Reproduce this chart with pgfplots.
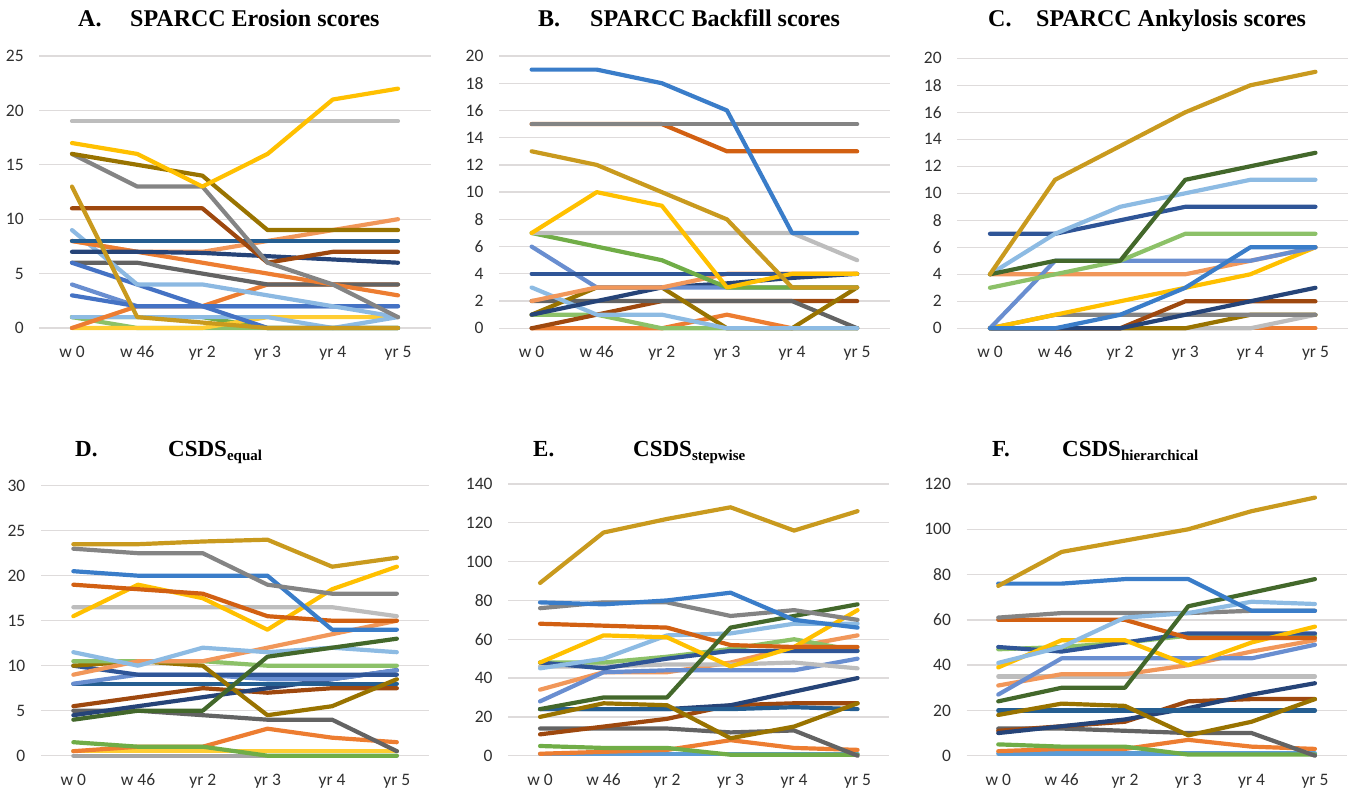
\documentclass[border=0pt]{standalone}
\usepackage{fontspec}
\setmainfont{Liberation Serif}
\newfontfamily\calfont{Carlito}
\usepackage{pgfplots}
\pgfplotsset{compat=1.18}
\definecolor{xblue}{HTML}{4472C4}
\definecolor{xorange}{HTML}{ED7D31}
\definecolor{xgray}{HTML}{A5A5A5}
\definecolor{xgold}{HTML}{FFC000}
\definecolor{xsky}{HTML}{5B9BD5}
\definecolor{xgreen}{HTML}{70AD47}
\definecolor{xnavy}{HTML}{264478}
\definecolor{xbrown}{HTML}{9E480E}
\definecolor{xdgray}{HTML}{636363}
\definecolor{xolive}{HTML}{997300}
\definecolor{xsteel}{HTML}{255E91}
\definecolor{xdgreen}{HTML}{43682B}
\definecolor{xperi}{HTML}{698ED0}
\definecolor{xsalmon}{HTML}{F1975A}
\definecolor{xlgray}{HTML}{BDBDBD}
\definecolor{xyellow}{HTML}{FFCD33}
\definecolor{xlblue}{HTML}{8DBBE3}
\definecolor{xlgreen}{HTML}{8CC168}
\definecolor{xroyal}{HTML}{2F5597}
\definecolor{xrust}{HTML}{D26012}
\definecolor{xmgray}{HTML}{848484}
\definecolor{xdgold}{HTML}{C99A1E}
\definecolor{xmblue}{HTML}{3A7DC9}
\definecolor{gridc}{HTML}{DEDBDB}
\definecolor{tickc}{HTML}{303030}
\pgfplotsset{
 panel/.style={
  scale only axis, clip=false,
  xmin=-0.5, xmax=5.5, ymin=0,
  axis line style={draw=none}, major tick style={draw=none},
  ymajorgrids, grid style={draw=gridc, line width=1.3pt},
  xtick={0,...,5}, xticklabels={w 0,w 46,yr 2,yr 3,yr 4,yr 5},
  ticklabel style={font=\calfont\fontsize{17.5}{18}\selectfont, text=tickc},
  xticklabel style={anchor=base, yshift=-29.5pt, inner sep=0pt},
  yticklabel style={anchor=east, xshift=-15.5pt, inner sep=0pt},
  /pgf/number format/assume math mode=true,
  every axis plot/.append style={line width=4.2pt, line join=round, line cap=round, mark=none},
  anchor=south west,
 }
}
\newcommand\tfont{\bfseries\fontsize{24}{25}\selectfont}
\newcommand\bfont{\bfseries\fontsize{23}{24}\selectfont}
\newcommand\sub[1]{\raisebox{-4pt}{\fontsize{15}{15}\selectfont #1}}
\begin{document}
\begin{tikzpicture}
\path (0,0) rectangle (1349pt,790pt);
% Titles
\node[anchor=base west, inner sep=0, font=\tfont] at (78pt,763.5pt) {A.};
\node[anchor=base west, inner sep=0, font=\tfont] at (130pt,763.5pt) {SPARCC Erosion scores};
\node[anchor=base west, inner sep=0, font=\tfont] at (538pt,763.5pt) {B.};
\node[anchor=base west, inner sep=0, font=\tfont] at (590pt,763.5pt) {SPARCC Backfill scores};
\node[anchor=base west, inner sep=0, font=\tfont] at (988pt,763.5pt) {C.};
\node[anchor=base west, inner sep=0, font=\tfont] at (1036pt,763.5pt) {SPARCC Ankylosis scores};
\node[anchor=base west, inner sep=0, font=\bfont] at (75pt,333pt) {D.};
\node[anchor=base west, inner sep=0, font=\bfont] at (168pt,333pt) {CSDS\sub{equal}};
\node[anchor=base west, inner sep=0, font=\bfont] at (533pt,333pt) {E.};
\node[anchor=base west, inner sep=0, font=\bfont] at (633pt,333pt) {CSDS\sub{stepwise}};
\node[anchor=base west, inner sep=0, font=\bfont] at (992pt,333pt) {F.};
\node[anchor=base west, inner sep=0, font=\bfont] at (1062pt,333pt) {CSDS\sub{hierarchical}};

% ---------------- A
\begin{axis}[panel, at={(39.4pt,462pt)}, width=391.2pt, height=272pt, ymax=25, ytick={0,5,...,25}]
\addplot[xdgreen] coordinates {(0,0)(1,0)(2,0)(3,0)(4,0)(5,0)};
\addplot[xlgreen] coordinates {(0,1)(1,0)(2,0)(3,0)(4,0)(5,0)};
\addplot[xgreen] coordinates {(0,1)(1,1)(2,1)(3,0)(4,0)(5,0)};
\addplot[xyellow] coordinates {(0,0)(1,0)(2,0)(3,1)(4,1)(5,1)};
\addplot[xlblue] coordinates {(0,1)(1,1)(2,1)(3,1)(4,0)(5,1)};
\addplot[xorange] coordinates {(0,0)(1,2)(2,2)(3,4)(4,4)(5,4)};
\addplot[xdgray] coordinates {(0,6)(1,6)(2,5)(3,4)(4,4)(5,4)};
\addplot[xperi] coordinates {(0,4)(1,2)(2,2)(3,2)(4,2)(5,2)};
\addplot[xblue] coordinates {(0,3)(1,2)(2,2)(3,2)(4,2)(5,2)};
\addplot[xblue] coordinates {(0,6)(1,4)(2,2)(3,0)(4,0)(5,0)};
\addplot[xsky!70!white] coordinates {(0,9)(1,4)(2,4)(3,3)(4,2)(5,1)};
\addplot[xsalmon] coordinates {(0,8)(1,7)(2,7)(3,8)(4,9)(5,10)};
\addplot[xorange] coordinates {(0,8)(1,7)(2,6)(3,5)(4,4)(5,3)};
\addplot[xnavy] coordinates {(0,7)(1,7)(2,6.9)(3,6.6)(4,6.3)(5,6)};
\addplot[xsteel] coordinates {(0,8)(1,8)(2,8)(3,8)(4,8)(5,8)};
\addplot[xbrown] coordinates {(0,11)(1,11)(2,11)(3,6)(4,7)(5,7)};
\addplot[xdgold] coordinates {(0,13)(1,1)(2,0.5)(3,0)(4,0)(5,0)};
\addplot[xmgray] coordinates {(0,16)(1,13)(2,13)(3,6)(4,4)(5,1)};
\addplot[xolive] coordinates {(0,16)(1,15)(2,14)(3,9)(4,9)(5,9)};
\addplot[xlgray] coordinates {(0,19)(1,19)(2,19)(3,19)(4,19)(5,19)};
\addplot[xgold] coordinates {(0,17)(1,16)(2,13)(3,16)(4,21)(5,22)};
\end{axis}

% ---------------- B
\begin{axis}[panel, at={(499.1pt,461.7pt)}, width=390.6pt, height=272.3pt, ymax=20, ytick={0,2,...,20}]
\addplot[xsteel] coordinates {(0,0)(1,0)(2,0)(3,0)(4,0)(5,0)};
\addplot[xorange] coordinates {(0,0)(1,0)(2,0)(3,1)(4,0)(5,0)};
\addplot[xlgreen] coordinates {(0,1)(1,1)(2,0)(3,0)(4,0)(5,0)};
\addplot[xbrown] coordinates {(0,0)(1,1)(2,2)(3,2)(4,2)(5,2)};
\addplot[xdgray] coordinates {(0,2)(1,2)(2,2)(3,2)(4,2)(5,0)};
\addplot[xolive] coordinates {(0,1)(1,3)(2,3)(3,0)(4,0)(5,3)};
\addplot[xlblue] coordinates {(0,3)(1,1)(2,1)(3,0)(4,0)(5,0)};
\addplot[xnavy] coordinates {(0,1)(1,2)(2,3)(3,3.3)(4,3.7)(5,4)};
\addplot[xperi] coordinates {(0,6)(1,3)(2,3)(3,3)(4,3)(5,3)};
\addplot[xsalmon] coordinates {(0,2)(1,3)(2,3)(3,4)(4,4)(5,4)};
\addplot[xroyal] coordinates {(0,4)(1,4)(2,4)(3,4)(4,4)(5,4)};
\addplot[xgreen] coordinates {(0,7)(1,6)(2,5)(3,3)(4,3)(5,3)};
\addplot[xlgray] coordinates {(0,7)(1,7)(2,7)(3,7)(4,7)(5,5)};
\addplot[xgold] coordinates {(0,7)(1,10)(2,9)(3,3)(4,4)(5,4)};
\addplot[xdgold] coordinates {(0,13)(1,12)(2,10)(3,8)(4,3)(5,3)};
\addplot[xrust] coordinates {(0,15)(1,15)(2,15)(3,13)(4,13)(5,13)};
\addplot[xmgray] coordinates {(0,15)(1,15)(2,15)(3,15)(4,15)(5,15)};
\addplot[xmblue] coordinates {(0,19)(1,19)(2,18)(3,16)(4,7)(5,7)};
\end{axis}

% ---------------- C
\begin{axis}[panel, at={(957.4pt,461.7pt)}, width=390.6pt, height=270pt, ymax=20, ytick={0,2,...,20}]
\addplot[xorange] coordinates {(0,0)(1,0)(2,0)(3,0)(4,0)(5,0)};
\addplot[xlgray] coordinates {(0,0)(1,0)(2,0)(3,0)(4,0)(5,1)};
\addplot[xolive] coordinates {(0,0)(1,0)(2,0)(3,0)(4,1)(5,1)};
\addplot[xmgray] coordinates {(0,0)(1,1)(2,1)(3,1)(4,1)(5,1)};
\addplot[xbrown] coordinates {(0,0)(1,0)(2,0)(3,2)(4,2)(5,2)};
\addplot[xnavy] coordinates {(0,0)(1,0)(2,0)(3,1)(4,2)(5,3)};
\addplot[xgold] coordinates {(0,0)(1,1)(2,2)(3,3)(4,4)(5,6)};
\addplot[xsalmon] coordinates {(0,4)(1,4)(2,4)(3,4)(4,5)(5,6)};
\addplot[xperi] coordinates {(0,0)(1,5)(2,5)(3,5)(4,5)(5,6)};
\addplot[xmblue] coordinates {(0,0)(1,0)(2,1)(3,3)(4,6)(5,6)};
\addplot[xlgreen] coordinates {(0,3)(1,4)(2,5)(3,7)(4,7)(5,7)};
\addplot[xroyal] coordinates {(0,7)(1,7)(2,8)(3,9)(4,9)(5,9)};
\addplot[xlblue] coordinates {(0,4)(1,7)(2,9)(3,10)(4,11)(5,11)};
\addplot[xdgreen] coordinates {(0,4)(1,5)(2,5)(3,11)(4,12)(5,13)};
\addplot[xdgold] coordinates {(0,4)(1,11)(2,13.5)(3,16)(4,18)(5,19)};
\end{axis}

% ---------------- D
\begin{axis}[panel, at={(41pt,34.3pt)}, width=388.2pt, height=270pt, ymax=30, ytick={0,5,...,30}]
\addplot[xgray] coordinates {(0,0)(1,0)(2,0)(3,0)(4,0)(5,0)};
\addplot[xsky] coordinates {(0,0.5)(1,0.5)(2,0.5)(3,0.5)(4,0.5)(5,0.5)};
\addplot[xyellow] coordinates {(0,0.5)(1,0.5)(2,0.5)(3,0.5)(4,0.5)(5,0.5)};
\addplot[xorange] coordinates {(0,0.5)(1,1)(2,1)(3,3)(4,2)(5,1.5)};
\addplot[xgreen] coordinates {(0,1.5)(1,1)(2,1)(3,0)(4,0)(5,0)};
\addplot[xdgray] coordinates {(0,5)(1,5)(2,4.5)(3,4)(4,4)(5,0.5)};
\addplot[xbrown] coordinates {(0,5.5)(1,6.5)(2,7.5)(3,7)(4,7.5)(5,7.5)};
\addplot[xnavy] coordinates {(0,4.5)(1,5.5)(2,6.5)(3,7.5)(4,8.5)(5,9.5)};
\addplot[xsteel] coordinates {(0,8)(1,8)(2,8)(3,8)(4,8)(5,8)};
\addplot[xperi] coordinates {(0,8)(1,9)(2,9)(3,8.5)(4,8.5)(5,9.5)};
\addplot[xroyal] coordinates {(0,10)(1,9)(2,9)(3,9)(4,9)(5,9)};
\addplot[xolive] coordinates {(0,10)(1,10.5)(2,10)(3,4.5)(4,5.5)(5,8.5)};
\addplot[xlgreen] coordinates {(0,10.5)(1,10.5)(2,10.5)(3,10)(4,10)(5,10)};
\addplot[xsalmon] coordinates {(0,9)(1,10.5)(2,10.5)(3,12)(4,13.5)(5,15)};
\addplot[xlblue] coordinates {(0,11.5)(1,10)(2,12)(3,11.5)(4,12)(5,11.5)};
\addplot[xdgreen] coordinates {(0,4)(1,5)(2,5)(3,11)(4,12)(5,13)};
\addplot[xlgray] coordinates {(0,16.5)(1,16.5)(2,16.5)(3,16.5)(4,16.5)(5,15.5)};
\addplot[xgold] coordinates {(0,15.5)(1,19)(2,17.5)(3,14)(4,18.5)(5,21)};
\addplot[xrust] coordinates {(0,19)(1,18.5)(2,18)(3,15.5)(4,15)(5,15)};
\addplot[xmblue] coordinates {(0,20.5)(1,20)(2,20)(3,20)(4,14)(5,14)};
\addplot[xmgray] coordinates {(0,23)(1,22.5)(2,22.5)(3,19)(4,18)(5,18)};
\addplot[xdgold] coordinates {(0,23.5)(1,23.5)(2,23.8)(3,24)(4,21)(5,22)};
\end{axis}

% ---------------- E
\begin{axis}[panel, at={(508.3pt,34.3pt)}, width=381pt, height=271.7pt, ymax=140, ytick={0,20,...,140}]
\addplot[xsky] coordinates {(0,1)(1,1)(2,1)(3,1)(4,1)(5,1)};
\addplot[xorange] coordinates {(0,1)(1,2)(2,3)(3,8)(4,4)(5,3)};
\addplot[xgreen] coordinates {(0,5)(1,4)(2,4)(3,0.5)(4,0.5)(5,0.5)};
\addplot[xdgray] coordinates {(0,14)(1,14)(2,14)(3,12)(4,13)(5,0)};
\addplot[xbrown] coordinates {(0,11)(1,15)(2,19)(3,26)(4,27)(5,27)};
\addplot[xnavy] coordinates {(0,24)(1,24)(2,24)(3,26)(4,33)(5,40)};
\addplot[xsteel] coordinates {(0,24)(1,24)(2,24)(3,24)(4,25)(5,24)};
\addplot[xolive] coordinates {(0,20)(1,27)(2,26)(3,9)(4,15)(5,27)};
\addplot[xsalmon] coordinates {(0,34)(1,43)(2,43)(3,48)(4,56)(5,62)};
\addplot[xperi] coordinates {(0,28)(1,43)(2,44)(3,44)(4,44)(5,50)};
\addplot[xlgray] coordinates {(0,46)(1,46)(2,47)(3,47)(4,48)(5,45)};
\addplot[xlgreen] coordinates {(0,48)(1,48)(2,51)(3,55)(4,60)(5,54)};
\addplot[xroyal] coordinates {(0,48)(1,45)(2,50)(3,54)(4,54)(5,54)};
\addplot[xlblue] coordinates {(0,45)(1,50)(2,62)(3,63)(4,68)(5,68)};
\addplot[xgold] coordinates {(0,48)(1,62)(2,61)(3,46)(4,56)(5,75)};
\addplot[xrust] coordinates {(0,68)(1,67)(2,66)(3,57)(4,56)(5,56)};
\addplot[xdgreen] coordinates {(0,24)(1,30)(2,30)(3,66)(4,72)(5,78)};
\addplot[xmgray] coordinates {(0,76)(1,79)(2,79)(3,72)(4,75)(5,70)};
\addplot[xmblue] coordinates {(0,79)(1,78)(2,80)(3,84)(4,70)(5,66)};
\addplot[xdgold] coordinates {(0,89)(1,115)(2,122)(3,128)(4,116)(5,126)};
\end{axis}

% ---------------- F
\begin{axis}[panel, at={(966.6pt,34.3pt)}, width=380pt, height=271.7pt, ymax=120, ytick={0,20,...,120}]
\addplot[xsky] coordinates {(0,1)(1,1)(2,1)(3,1)(4,1)(5,1)};
\addplot[xorange] coordinates {(0,2)(1,3)(2,3)(3,7)(4,4)(5,3)};
\addplot[xgreen] coordinates {(0,5)(1,4)(2,4)(3,0.5)(4,0.5)(5,0.5)};
\addplot[xdgray] coordinates {(0,12)(1,12)(2,11)(3,10)(4,10)(5,0)};
\addplot[xbrown] coordinates {(0,11)(1,13)(2,15)(3,24)(4,25)(5,25)};
\addplot[xnavy] coordinates {(0,10)(1,13)(2,16)(3,21)(4,27)(5,32)};
\addplot[xsteel] coordinates {(0,20)(1,20)(2,20)(3,20)(4,20)(5,20)};
\addplot[xolive] coordinates {(0,18)(1,23)(2,22)(3,9)(4,15)(5,25)};
\addplot[xlgray] coordinates {(0,35)(1,35)(2,35)(3,35)(4,35)(5,35)};
\addplot[xsalmon] coordinates {(0,31)(1,36)(2,36)(3,40)(4,46)(5,51)};
\addplot[xperi] coordinates {(0,27)(1,43)(2,43)(3,43)(4,43)(5,49)};
\addplot[xlgreen] coordinates {(0,47)(1,48)(2,50)(3,53)(4,53)(5,53)};
\addplot[xroyal] coordinates {(0,48)(1,46)(2,50)(3,54)(4,54)(5,54)};
\addplot[xgold] coordinates {(0,39)(1,51)(2,51)(3,40)(4,50)(5,57)};
\addplot[xrust] coordinates {(0,60)(1,60)(2,60)(3,52)(4,52)(5,52)};
\addplot[xmgray] coordinates {(0,61)(1,63)(2,63)(3,63)(4,64)(5,64)};
\addplot[xlblue] coordinates {(0,41)(1,48)(2,61)(3,63)(4,68)(5,67)};
\addplot[xdgreen] coordinates {(0,24)(1,30)(2,30)(3,66)(4,72)(5,78)};
\addplot[xmblue] coordinates {(0,76)(1,76)(2,78)(3,78)(4,64)(5,64)};
\addplot[xdgold] coordinates {(0,75)(1,90)(2,95)(3,100)(4,108)(5,114)};
\end{axis}
\end{tikzpicture}
\end{document}
